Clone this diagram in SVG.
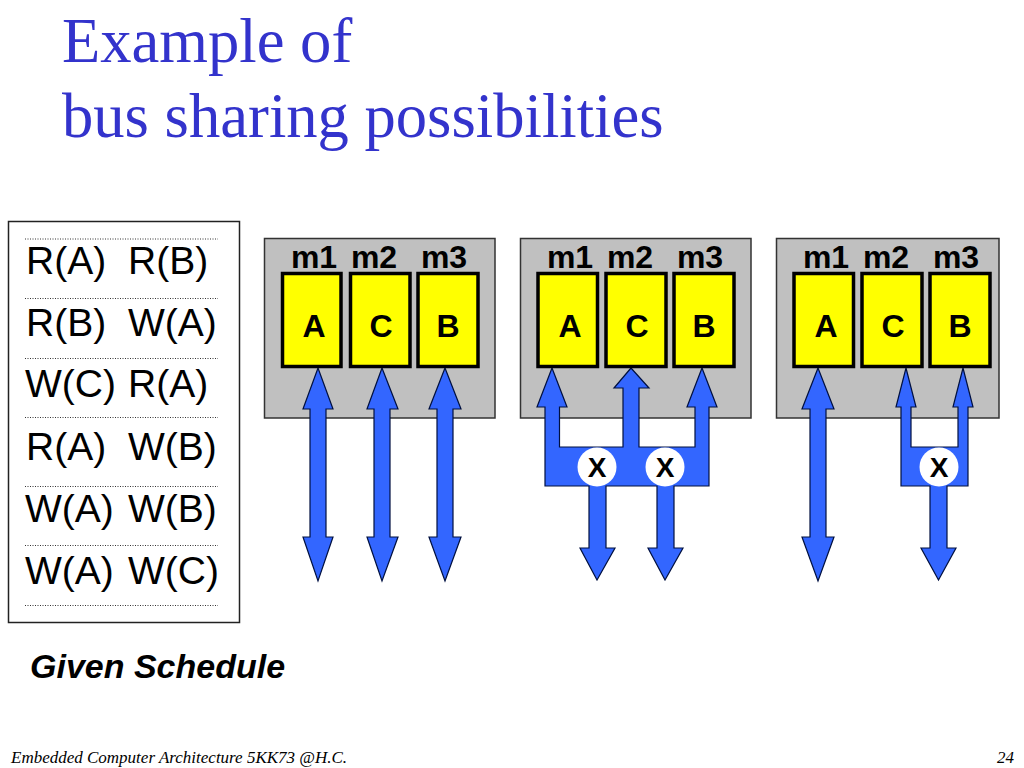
<svg xmlns="http://www.w3.org/2000/svg" width="1024" height="768" viewBox="0 0 1024 768">
<style>
.title{font-family:"Liberation Serif",serif;font-size:62.6px;fill:#3333cc}
.foot{font-family:"Liberation Serif",serif;font-style:italic;font-size:17px;fill:#000}
.sched{font-family:"Liberation Sans",Arial,sans-serif;font-size:39px;fill:#000}
.m{font-family:"Liberation Sans",Arial,sans-serif;font-weight:bold;font-size:32px;fill:#000;text-anchor:middle}
.l{font-family:"Liberation Sans",Arial,sans-serif;font-weight:bold;font-size:32px;fill:#000;text-anchor:middle}
.x{font-family:"Liberation Sans",Arial,sans-serif;font-weight:bold;font-size:28px;fill:#000;text-anchor:middle}
.panel{fill:#c0c0c0;stroke:#333;stroke-width:1.5}
.mem{fill:#ffff00;stroke:#000;stroke-width:3.5}
.bus{fill:#3366ff;stroke:#001040;stroke-width:1.2;stroke-linejoin:miter}
.sw{fill:#fff}
.dot{stroke:#333;stroke-width:1;stroke-dasharray:1 1.5;fill:none}
</style>
<rect width="1024" height="768" fill="#fff"/>
<g id="title">
<text class="title" x="62" y="62">Example of</text>
<text class="title" x="62" y="137">bus sharing possibilities</text>
</g>
<g id="schedule">
<rect x="8.500" y="221.500" width="231" height="401" fill="#fff" stroke="#222" stroke-width="1.5"/>
<path class="dot" d="M25 239H218M25 298.500H218M25 358.500H218M25 417.500H218M25 486.500H218M25 545.500H218M25 605.500H218"/>
<text class="sched" x="26" y="274">R(A)</text><text class="sched" x="128" y="274">R(B)</text>
<text class="sched" x="26" y="336">R(B)</text><text class="sched" x="128" y="336">W(A)</text>
<text class="sched" x="25" y="397">W(C)</text><text class="sched" x="128" y="397">R(A)</text>
<text class="sched" x="26" y="460">R(A)</text><text class="sched" x="128" y="460">W(B)</text>
<text class="sched" x="25" y="522">W(A)</text><text class="sched" x="128" y="522">W(B)</text>
<text class="sched" x="25" y="584">W(A)</text><text class="sched" x="128" y="584">W(C)</text>
</g>
<text id="caption" x="30" y="678" font-family="Liberation Sans, Arial, sans-serif" font-weight="bold" font-style="italic" font-size="34">Given Schedule</text>
<g id="panel1">
<rect class="panel" x="264.500" y="238.500" width="230.500" height="179.500"/>
<text class="m" x="314" y="268">m1</text><text class="m" x="374" y="268">m2</text><text class="m" x="444" y="268">m3</text>
</g>
<g id="panel2">
<rect class="panel" x="520.500" y="238.500" width="230.500" height="179.500"/>
<text class="m" x="570" y="268">m1</text><text class="m" x="630" y="268">m2</text><text class="m" x="700" y="268">m3</text>
</g>
<g id="panel3">
<rect class="panel" x="776.500" y="238.500" width="222.500" height="179.500"/>
<text class="m" x="826" y="268">m1</text><text class="m" x="886" y="268">m2</text><text class="m" x="956" y="268">m3</text>
</g>
<g id="connectors">
<polygon class="bus" points="318,368 333,409 326,409 326,537 333,537 318,581 303,537 310,537 310,409 303,409"/>
<polygon class="bus" points="382,368 398,409 390,409 390,537 398,537 382,581 367,537 374,537 374,409 367,409"/>
<polygon class="bus" points="445,368 461,409 453,409 453,537 461,537 445,581 429,537 437,537 437,409 429,409"/>
<polygon class="bus" points="552,368 567,407 559.500,407 559.500,447 623,447 623,388 614,388 631,368 649,388 639,388 639,447 695,447 695,407 687,407 702,368 717,407 709,407 709,486 674,486 674,548 683,548 665,580 648,548 657,548 657,486 606,486 606,548 615,548 597,580 580,548 589,548 589,486 545,486 545,407 537,407"/>
<polygon class="bus" points="818,368 834,409 826,409 826,537 834,537 818,581 802,537 810,537 810,409 802,409"/>
<polygon class="bus" points="906,368 916,407 911,407 911,447 958,447 958,407 953,407 963,368 973,407 968,407 968,486 947,486 947,548 956,548 938.500,580 921,548 930,548 930,486 901,486 901,407 896,407"/>
</g>
<g id="mem-a1"><rect class="mem" x="282.500" y="273.500" width="58.500" height="93"/><text class="l" x="314" y="337">A</text></g>
<g id="mem-c1"><rect class="mem" x="350.500" y="273.500" width="59.500" height="93"/><text class="l" x="381" y="337">C</text></g>
<g id="mem-b1"><rect class="mem" x="418" y="273.500" width="60" height="93"/><text class="l" x="448" y="337">B</text></g>
<g id="mem-a2"><rect class="mem" x="538" y="273.500" width="59.500" height="93"/><text class="l" x="570" y="337">A</text></g>
<g id="mem-c2"><rect class="mem" x="606" y="273.500" width="60" height="93"/><text class="l" x="637" y="337">C</text></g>
<g id="mem-b2"><rect class="mem" x="674" y="273.500" width="60" height="93"/><text class="l" x="704" y="337">B</text></g>
<g id="mem-a3"><rect class="mem" x="794" y="273.500" width="59.500" height="93"/><text class="l" x="826" y="337">A</text></g>
<g id="mem-c3"><rect class="mem" x="862" y="273.500" width="60" height="93"/><text class="l" x="893" y="337">C</text></g>
<g id="mem-b3"><rect class="mem" x="930" y="273.500" width="60" height="93"/><text class="l" x="960" y="337">B</text></g>
<g id="switch1"><circle class="sw" cx="597" cy="467" r="19.500"/><text class="x" x="597" y="477">X</text></g>
<g id="switch2"><circle class="sw" cx="665" cy="467" r="19.500"/><text class="x" x="665" y="477">X</text></g>
<g id="switch3"><circle class="sw" cx="939" cy="467" r="19.500"/><text class="x" x="939" y="477">X</text></g>
<text id="footer" class="foot" x="11" y="763">Embedded Computer Architecture 5KK73 @H.C.</text>
<text id="page" class="foot" x="997" y="763">24</text>
</svg>
